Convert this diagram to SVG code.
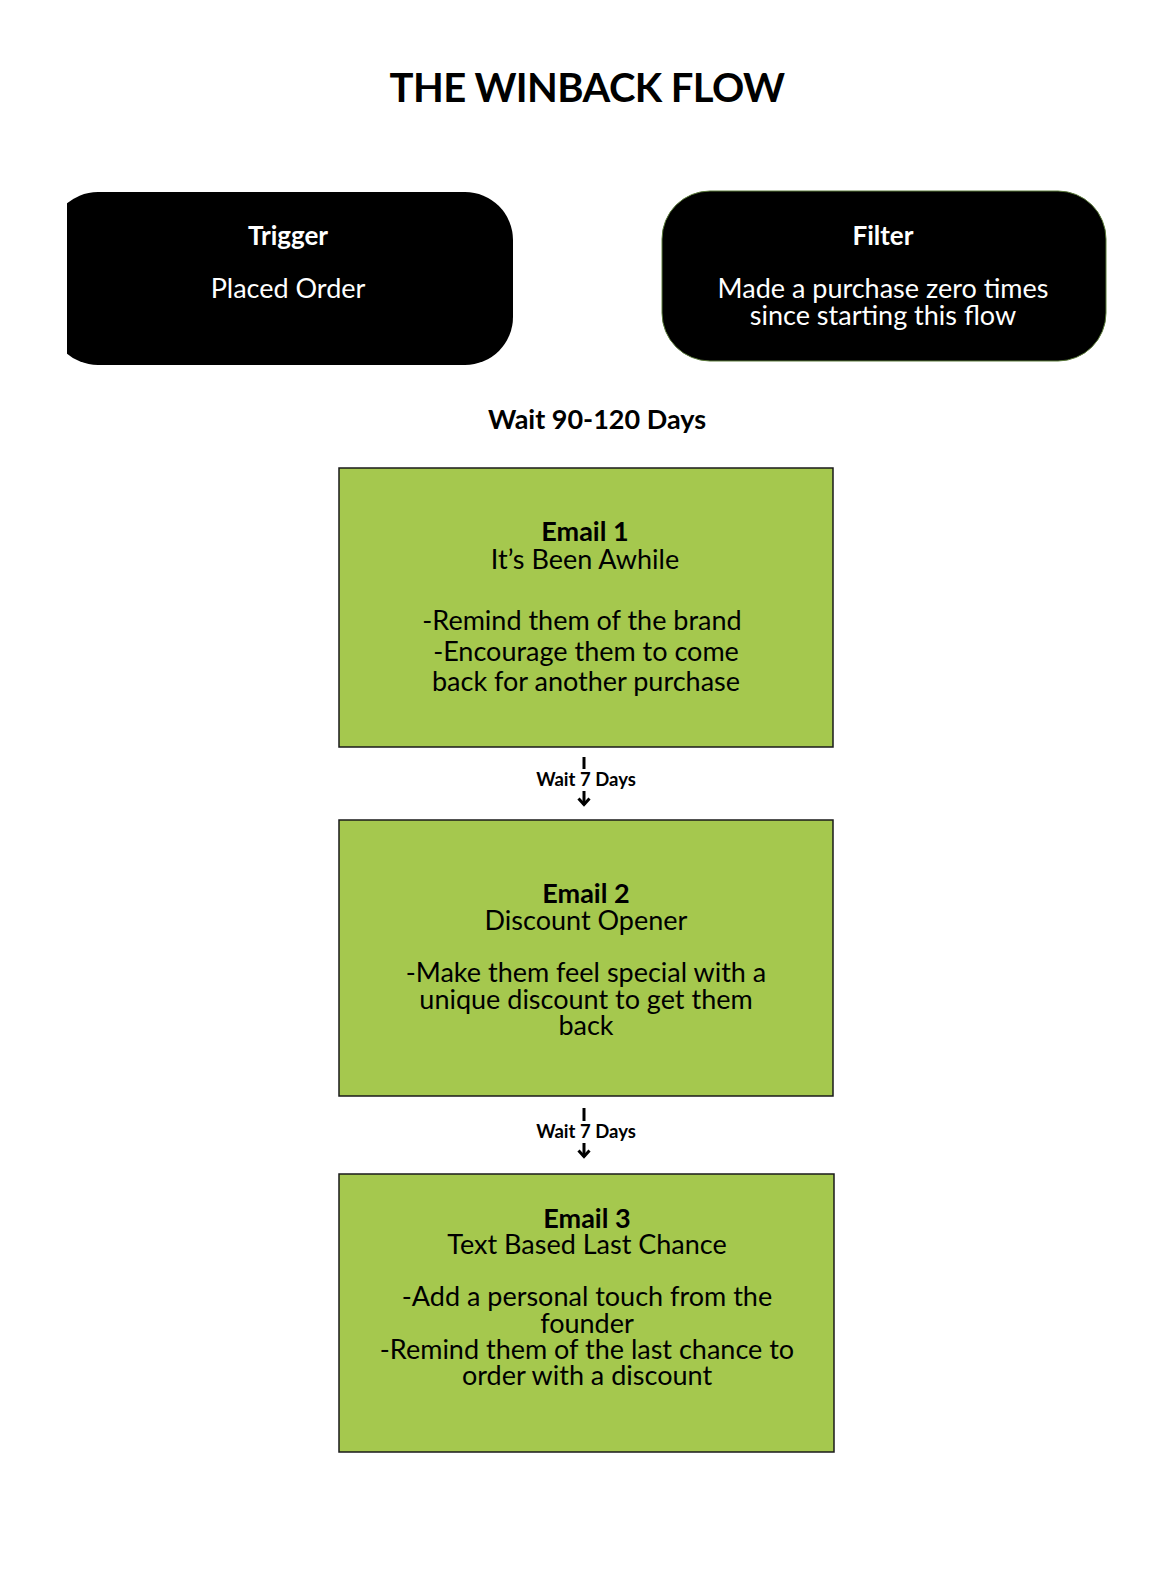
<svg xmlns="http://www.w3.org/2000/svg" width="1169" height="1571" viewBox="0 0 1169 1571">
<defs>
<style>
text{font-family:Lato,"Noto Sans",sans-serif;text-anchor:middle;}
.title{font-size:40px;font-weight:bold;letter-spacing:-0.6px;fill:#000;}
.wh{fill:#fff;font-size:27px;}
.whb{fill:#fff;font-size:26px;font-weight:bold;}
.bk{fill:#000;font-size:27px;}
.bkb{fill:#000;font-size:27px;font-weight:bold;}
.wait{fill:#000;font-size:18.5px;font-weight:bold;}
.email{fill:#A5C84E;stroke:#1a1a1a;stroke-width:1.5;}
.conn{stroke:#000;stroke-width:3;fill:none;}
.head{stroke:#000;stroke-width:3;fill:none;stroke-linejoin:miter;}
</style>
<clipPath id="clipT"><rect x="67" y="180" width="460" height="200"/></clipPath>
</defs>
<rect width="1169" height="1571" fill="#fff"/>
<text class="title" x="587" y="102">THE WINBACK FLOW</text>

<g id="trigger">
<rect x="50" y="192" width="463" height="173" rx="48" fill="#000" clip-path="url(#clipT)"/>
<text class="whb" x="288" y="245">Trigger</text>
<text class="wh" x="288" y="298">Placed Order</text>
</g>

<g id="filter">
<rect x="662" y="191" width="444" height="170" rx="48" fill="#000" stroke="#5a7a3a" stroke-width="1"/>
<text class="whb" x="883" y="245">Filter</text>
<text class="wh" x="883" y="298">Made a purchase zero times</text>
<text class="wh" x="883" y="325">since starting this flow</text>
</g>

<g id="wait90">
<text class="bkb" x="597" y="429">Wait 90-120 Days</text>
</g>

<g id="email1">
<rect class="email" x="339" y="468" width="494" height="279"/>
<text class="bkb" x="585" y="541">Email 1</text>
<text class="bk" x="585" y="569">It’s Been Awhile</text>
<text class="bk" x="582" y="630">-Remind them of the brand</text>
<text class="bk" x="586" y="661">-Encourage them to come</text>
<text class="bk" x="586" y="691">back for another purchase</text>
</g>

<g id="email2">
<rect class="email" x="339" y="820" width="494" height="276"/>
<text class="bkb" x="586" y="903">Email 2</text>
<text class="bk" x="586" y="930">Discount Opener</text>
<text class="bk" x="586" y="982">-Make them feel special with a</text>
<text class="bk" x="586" y="1009">unique discount to get them</text>
<text class="bk" x="586" y="1035">back</text>
</g>

<g id="email3">
<rect class="email" x="339" y="1174" width="495" height="278"/>
<text class="bkb" x="587" y="1228">Email 3</text>
<text class="bk" x="587" y="1254">Text Based Last Chance</text>
<text class="bk" x="587" y="1306">-Add a personal touch from the</text>
<text class="bk" x="587" y="1333">founder</text>
<text class="bk" x="587" y="1359">-Remind them of the last chance to</text>
<text class="bk" x="587" y="1385">order with a discount</text>
</g>

<g id="connectors">
<line class="conn" x1="584" y1="757" x2="584" y2="769"/>
<line class="conn" x1="584" y1="791" x2="584" y2="805"/>
<path class="head" d="M578.5,798.5 L584,804.5 L589.5,798.5"/>
<text class="wait" x="586" y="786">Wait 7 Days</text>
<line class="conn" x1="584" y1="1108" x2="584" y2="1121"/>
<line class="conn" x1="584" y1="1143" x2="584" y2="1157"/>
<path class="head" d="M578.5,1150.5 L584,1156.5 L589.5,1150.5"/>
<text class="wait" x="586" y="1138">Wait 7 Days</text>
</g>
</svg>
